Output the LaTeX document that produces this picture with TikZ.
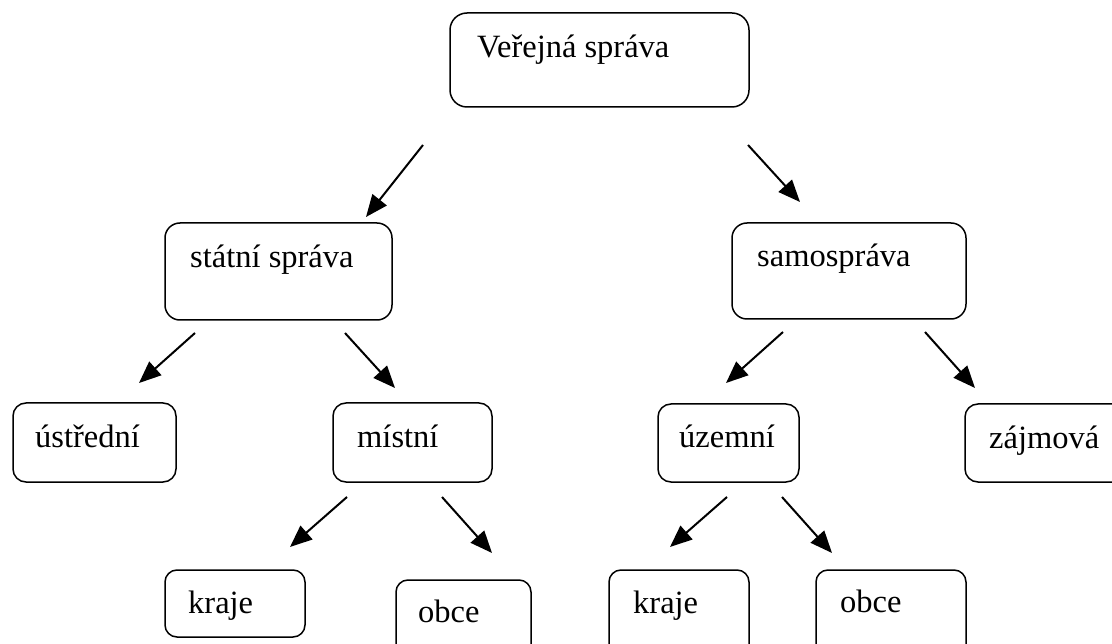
\documentclass[tikz,border=0pt]{standalone}
\usepackage{fontspec}
\setmainfont{Liberation Serif}
\usetikzlibrary{arrows.meta}
\begin{document}
\begin{tikzpicture}[x=1pt,y=-1pt,
  box/.style={draw=black,line width=1.5pt,rounded corners=#1},
  box/.default=13pt,
  lbl/.style={anchor=base west,inner sep=0pt,font=\fontsize{32.5}{39}\selectfont},
  arr/.style={line width=2pt,-{Triangle[length=22pt,width=18pt]}}]
\useasboundingbox (0,0) rectangle (1112,644);
\fill[white] (0,0) rectangle (1112,644);
% boxes
\draw[box=17pt] (450,13) rectangle (749,107);
\node[lbl] (t0) at (477,58) {Veřejná správa};
\draw[box=15pt] (165,223) rectangle (392,320);
\node[lbl] (t1) at (190,268) {státní správa};
\draw[box=15pt] (732,223) rectangle (966,319);
\node[lbl] (t2) at (757,267) {samospráva};
\draw[box] (13,403) rectangle (176,482);
\node[lbl] (t3) at (35,447) {ústřední};
\draw[box] (333,403) rectangle (492,482);
\node[lbl] (t4) at (357,447) {místní};
\draw[box] (658,404) rectangle (799,482);
\node[lbl] (t5) at (679,448) {územní};
\draw[box] (965,404) rectangle (1135,482);
\node[lbl] (t6) at (989,449) {zájmová};
\draw[box=12pt] (165,570) rectangle (305,637);
\node[lbl] (t7) at (188,613) {kraje};
\draw[box=12pt] (396,580) rectangle (531,660);
\node[lbl] (t8) at (418,622) {obce};
\draw[box=12pt] (609,570) rectangle (749,660);
\node[lbl] (t9) at (633,613) {kraje};
\draw[box=12pt] (816,570) rectangle (966,660);
\node[lbl] (t10) at (840,612) {obce};
% arrow ends
\coordinate (a1s) at (423,145); \coordinate (a1e) at (366,217);
\coordinate (a2s) at (748,145); \coordinate (a2e) at (800,202);
\coordinate (a3s) at (195,333); \coordinate (a3e) at (139,383);
\coordinate (a4s) at (345,333); \coordinate (a4e) at (395,388);
\coordinate (a5s) at (783,332); \coordinate (a5e) at (726,383);
\coordinate (a6s) at (925,332); \coordinate (a6e) at (975,388);
\coordinate (a7s) at (347,497); \coordinate (a7e) at (290,547);
\coordinate (a8s) at (442,497); \coordinate (a8e) at (492,553);
\coordinate (a9s) at (727,497); \coordinate (a9e) at (670,547);
\coordinate (a10s) at (782,497); \coordinate (a10e) at (832,553);
\foreach \i in {1,...,10} {\draw[arr] (a\i s) -- (a\i e);}
\end{tikzpicture}
\end{document}
